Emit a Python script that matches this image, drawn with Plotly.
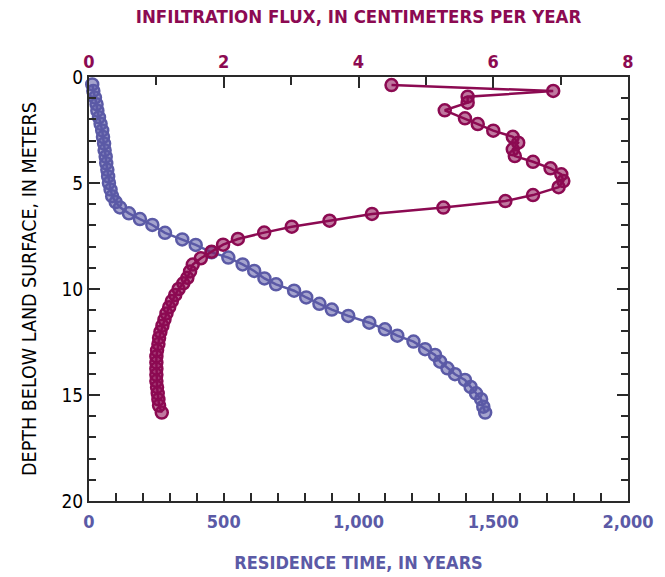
import plotly.graph_objects as go

# Residence time profile (years) versus depth (m)
res_depth = [0.35, 0.66, 0.97, 1.28, 1.59, 1.90, 2.21, 2.52, 2.83, 3.14, 3.45, 3.76,
             4.07, 4.38, 4.69, 5.00, 5.31, 5.62, 5.90, 6.15, 6.43, 6.70, 6.98, 7.35,
             7.66, 7.92, 8.27, 8.52, 8.84, 9.15, 9.50, 9.78, 10.08, 10.40, 10.70,
             10.97, 11.27, 11.59, 11.90, 12.20, 12.48, 12.84, 13.11, 13.43, 13.74,
             14.02, 14.29, 14.62, 14.92, 15.20, 15.55, 15.83]
res_years = [12, 16, 22, 28, 31, 37, 43, 49, 52, 56, 58, 62,
             64, 68, 71, 74, 80, 86, 99, 115, 148, 189, 235, 282,
             346, 396, 455, 517, 570, 613, 651, 694, 761, 806, 855,
             901, 962, 1040, 1098, 1144, 1204, 1247, 1284, 1303, 1330,
             1358, 1395, 1416, 1436, 1455, 1463, 1470]

# Infiltration flux (cm/yr) versus depth (m)
flux_depth = [0.38, 0.66, 0.93, 1.21, 1.57, 1.95, 2.22, 2.53, 2.82, 3.10, 3.41, 3.73,
              4.00, 4.31, 4.59, 4.91, 5.20, 5.57, 5.85, 6.16, 6.46, 6.78, 7.06, 7.34,
              7.64, 7.91, 8.24, 8.55, 8.85, 9.17, 9.47, 9.73, 10.00, 10.28, 10.57,
              10.86, 11.15, 11.44, 11.73, 12.02, 12.31, 12.60, 12.89, 13.18, 13.47,
              13.76, 14.05, 14.34, 14.63, 14.92, 15.21, 15.50, 15.83]
flux_cm = [4.49, 6.89, 5.62, 5.62, 5.28, 5.58, 5.77, 6.00, 6.29, 6.37, 6.29, 6.32,
           6.59, 6.85, 7.01, 7.04, 6.97, 6.59, 6.18, 5.26, 4.20, 3.57, 3.01, 2.60,
           2.21, 1.99, 1.82, 1.66, 1.54, 1.50, 1.46, 1.40, 1.33, 1.28, 1.23,
           1.19, 1.15, 1.12, 1.09, 1.06, 1.04, 1.03, 1.01, 1.00, 1.00,
           1.00, 1.00, 1.00, 1.01, 1.02, 1.03, 1.04, 1.08]

depth_ticks = [0, 5, 10, 15, 20]
years_ticks = [0, 500, 1000, 1500, 2000]
years_labels = ["0", "500", "1,000", "1,500", "2,000"]
flux_ticks = [0, 2, 4, 6, 8]

BLUE = "#5b5aa6"
BLUE_FILL = "rgba(91,90,166,0.55)"
MAGENTA = "#8c0a52"
MAGENTA_FILL = "rgba(140,10,82,0.55)"
AXIS = "#2a2a2a"
FONT = "DejaVu Sans Condensed, Arial Narrow, sans-serif"

fig = go.Figure()

fig.add_trace(go.Scatter(
    x=res_years, y=res_depth, mode="lines+markers", xaxis="x", yaxis="y",
    line=dict(color=BLUE, width=2.5),
    marker=dict(symbol="circle", size=12, color=BLUE_FILL,
                line=dict(color=BLUE, width=2.5)),
    showlegend=False, cliponaxis=False,
))

fig.add_trace(go.Scatter(
    x=flux_cm, y=flux_depth, mode="lines+markers", xaxis="x2", yaxis="y",
    line=dict(color=MAGENTA, width=2.5),
    marker=dict(symbol="circle", size=12, color=MAGENTA_FILL,
                line=dict(color=MAGENTA, width=2.5)),
    showlegend=False, cliponaxis=False,
))

fig.update_layout(
    width=665, height=577,
    margin=dict(l=89, r=37, t=77, b=76),
    paper_bgcolor="white", plot_bgcolor="white",
    font=dict(family=FONT, color="black"),
    xaxis=dict(
        range=[0, 2000], tickmode="array", tickvals=years_ticks, ticktext=years_labels,
        ticks="inside", ticklen=8, tickwidth=1.5, tickcolor=AXIS,
        minor=dict(dtick=100, ticks="inside", ticklen=8, tickwidth=1.5, tickcolor=AXIS),
        showline=True, linecolor=AXIS, linewidth=2, showgrid=False, zeroline=False,
        ticklabelstandoff=3, automargin=False,
        tickfont=dict(family=FONT, size=18, color=BLUE, weight="bold"),
        title=dict(text="RESIDENCE TIME, IN YEARS", standoff=26,
                   font=dict(family=FONT, size=18, color=BLUE, weight="bold")),
    ),
    xaxis2=dict(
        range=[0, 8], overlaying="x", side="top", tickmode="array", tickvals=flux_ticks,
        ticks="inside", ticklen=11, tickwidth=1.5, tickcolor=AXIS,
        minor=dict(dtick=1, ticks="inside", ticklen=8, tickwidth=1.5, tickcolor=AXIS),
        showline=True, linecolor=AXIS, linewidth=2, showgrid=False, zeroline=False,
        automargin=False,
        tickfont=dict(family=FONT, size=18, color=MAGENTA, weight="bold"),
        title=dict(text="INFILTRATION FLUX, IN CENTIMETERS PER YEAR", standoff=22,
                   font=dict(family=FONT, size=18.5, color=MAGENTA, weight="bold")),
    ),
    yaxis=dict(
        range=[20, 0], tickmode="array", tickvals=depth_ticks,
        ticks="inside", ticklen=11, tickwidth=1.5, tickcolor=AXIS,
        minor=dict(dtick=1, ticks="inside", ticklen=7, tickwidth=1.5, tickcolor=AXIS),
        showline=True, linecolor=AXIS, linewidth=2, mirror="ticks",
        showgrid=False, zeroline=False, automargin=False,
        tickfont=dict(family=FONT, size=19, color="black"),
        title=dict(text="DEPTH BELOW LAND SURFACE, IN METERS", standoff=20,
                   font=dict(family=FONT, size=19.5, color="black")),
    ),
)

fig.write_html("out.html")
